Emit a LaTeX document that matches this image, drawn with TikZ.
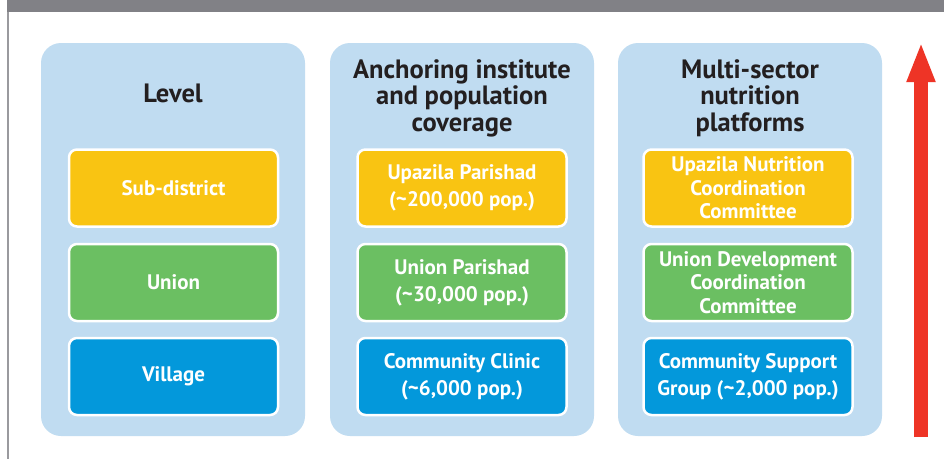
\documentclass[tikz,border=0pt]{standalone}
\usepackage{fontspec}
\setmainfont{PT Sans}
\usetikzlibrary{arrows.meta}
\definecolor{panelblue}{HTML}{C0DCF1}
\definecolor{boxyellow}{HTML}{F9C412}
\definecolor{boxgreen}{HTML}{6BBF62}
\definecolor{boxblue}{HTML}{0398DB}
\definecolor{arrowred}{HTML}{EE3426}
\definecolor{bargrey}{HTML}{818186}
\definecolor{titletext}{HTML}{231F20}
\tikzset{
  panel/.style={fill=panelblue, rounded corners=20pt, minimum width=264pt, minimum height=393pt, inner sep=0pt},
  levelbox/.style={draw=white, line width=2.5pt, rounded corners=8pt, minimum width=209pt, minimum height=77pt, inner sep=0pt, text=white, font=\fontsize{21}{27}\selectfont\bfseries, align=center},
  tightbox/.style={levelbox, font=\fontsize{21}{23.5}\selectfont\bfseries},
  paneltitle/.style={text=titletext, font=\fontsize{26.5}{26.5}\selectfont\bfseries, align=center},
}
\begin{document}
\begin{tikzpicture}[x=1pt,y=-1pt]
\useasboundingbox (0,0) rectangle (944,459);
\fill[white] (0,0) rectangle (944,459);
% frame
\fill[bargrey] (7,0) rectangle (944,12);
\fill[bargrey!80] (7,12) rectangle (9,459);
% panels
\node[panel] (p1) at (173,239.5) {};
\node[panel] (p2) at (462,239.5) {};
\node[panel] (p3) at (750,239.5) {};
% titles
\node[paneltitle] (t1) at (173,93) {Level};
\node[paneltitle] (t2) at (462,98) {Anchoring institute\\and population\\coverage};
\node[paneltitle] (t3) at (750,98) {Multi-sector\\nutrition\\platforms};
% column 1
\node[levelbox, fill=boxyellow] (a1) at (173.5,188) {Sub-district};
\node[levelbox, fill=boxgreen] (a2) at (173.5,282.5) {Union};
\node[levelbox, fill=boxblue] (a3) at (173.5,376.5) {Village};
% column 2
\node[levelbox, fill=boxyellow] (b1) at (462,188) {Upazila Parishad\\(\textasciitilde200,000 pop.)};
\node[levelbox, fill=boxgreen] (b2) at (462,282.5) {Union Parishad\\(\textasciitilde30,000 pop.)};
\node[levelbox, fill=boxblue] (b3) at (462,376.5) {Community Clinic\\(\textasciitilde6,000 pop.)};
% column 3
\node[tightbox, fill=boxyellow] (c1) at (748,188) {Upazila Nutrition\\Coordination\\Committee};
\node[tightbox, fill=boxgreen] (c2) at (748,282.5) {Union Development\\Coordination\\Committee};
\node[levelbox, fill=boxblue] (c3) at (748,376.5) {Community Support\\Group (\textasciitilde2,000 pop.)};
% arrow
\coordinate (arrbot) at (921,437);
\coordinate (arrtop) at (921,42);
\draw[arrowred, line width=14pt, -{Triangle[width=26pt,length=40pt]}] (arrbot) -- (arrtop);
\end{tikzpicture}
\end{document}
